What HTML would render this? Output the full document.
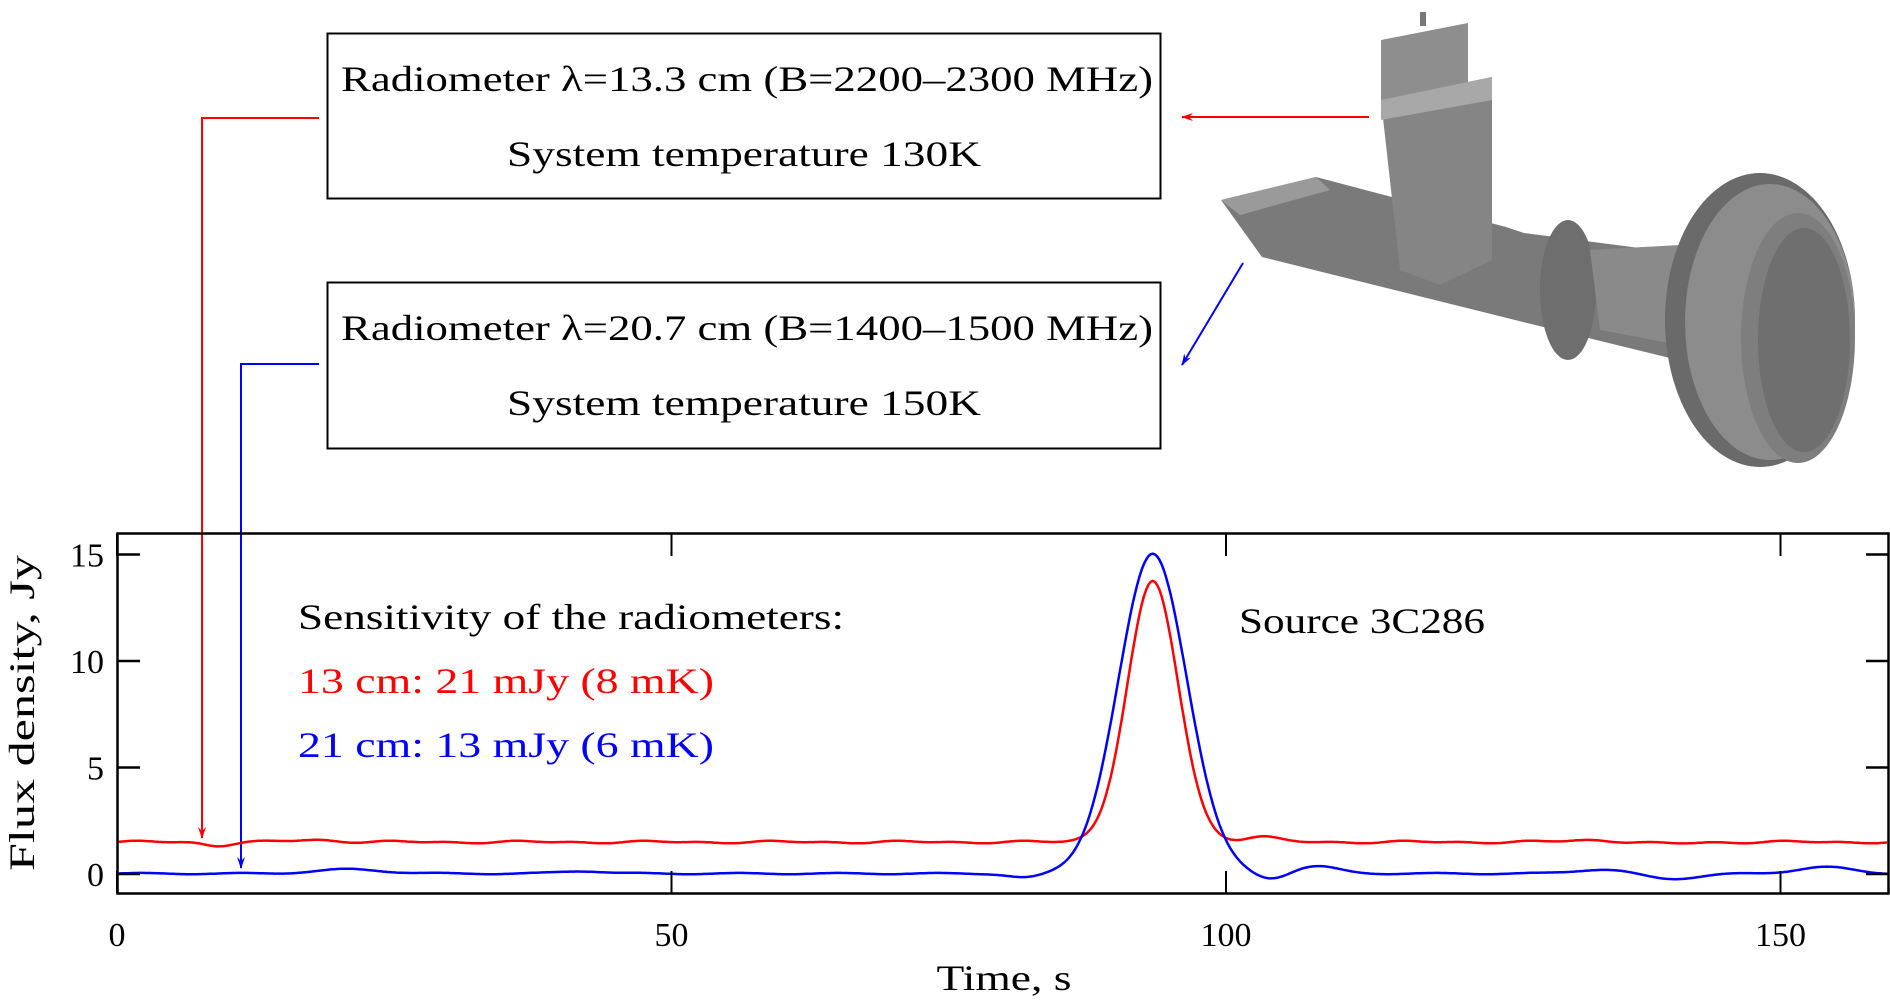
<!DOCTYPE html>
<html><head><meta charset="utf-8"><style>
html,body{margin:0;padding:0;background:#fff;}
svg{display:block;font-family:"Liberation Serif","DejaVu Serif",serif;}
</style></head><body>
<svg id="s" width="1890" height="1005" viewBox="0 0 1890 1005" xmlns="http://www.w3.org/2000/svg">
<defs>
<marker id="ar" markerWidth="12" markerHeight="8" refX="11" refY="4" orient="auto" markerUnits="userSpaceOnUse"><path d="M0,0 L12,4 L0,8 L4,4 z" fill="#f00"/></marker>
<marker id="ab" markerWidth="12" markerHeight="8" refX="11" refY="4" orient="auto" markerUnits="userSpaceOnUse"><path d="M0,0 L12,4 L0,8 L4,4 z" fill="#00f"/></marker>
</defs>
<g>
<polygon points="1221,200 1316,177 1506,227 1524,233 1678,253 1678,360 1515,320 1262,257" fill="#7a7a7a"/>
<polygon points="1221,200 1316,177 1330,190 1240,215" fill="#9a9a9a"/>
<polygon points="1381,100 1492,77 1492,260 1440,285 1400,270" fill="#858585"/>
<polygon points="1381,40 1468,23 1468,90 1381,100" fill="#8e8e8e"/>
<polygon points="1381,100 1492,77 1492,100 1381,120" fill="#a8a8a8"/>
<rect x="1420" y="12" width="6" height="14" fill="#777"/>
<ellipse cx="1568" cy="290" rx="28" ry="70" fill="#6e6e6e"/>
<polygon points="1590,250 1680,245 1680,345 1600,330" fill="#8a8a8a"/>
<ellipse cx="1760" cy="320" rx="95" ry="147" fill="#6a6a6a"/>
<ellipse cx="1770" cy="322" rx="85" ry="138" fill="#8c8c8c"/>
<ellipse cx="1798" cy="338" rx="57" ry="125" fill="#7e7e7e"/>
<ellipse cx="1804" cy="340" rx="46" ry="112" fill="#6f6f6f"/>
</g>
<rect x="327.5" y="33.5" width="833" height="165" fill="none" stroke="#000" stroke-width="2"/>
<rect x="327.5" y="282.5" width="833" height="166" fill="none" stroke="#000" stroke-width="2"/>
<g font-size="36" fill="#000">
<text x="341" y="91" textLength="812" lengthAdjust="spacingAndGlyphs">Radiometer λ=13.3 cm (B=2200–2300 MHz)</text>
<text x="744" y="166" text-anchor="middle" textLength="474" lengthAdjust="spacingAndGlyphs">System temperature 130K</text>
<text x="341" y="340" textLength="812" lengthAdjust="spacingAndGlyphs">Radiometer λ=20.7 cm (B=1400–1500 MHz)</text>
<text x="744" y="415" text-anchor="middle" textLength="474" lengthAdjust="spacingAndGlyphs">System temperature 150K</text>
</g>
<polyline points="319,118 202,118 202,838" fill="none" stroke="#f00" stroke-width="2" marker-end="url(#ar)"/>
<polyline points="319,364 241,364 241,868" fill="none" stroke="#00f" stroke-width="2" marker-end="url(#ab)"/>
<line x1="1369" y1="117" x2="1182" y2="117" stroke="#f00" stroke-width="2" marker-end="url(#ar)"/>
<line x1="1243" y1="263" x2="1182" y2="365" stroke="#00f" stroke-width="2" marker-end="url(#ab)"/>
<g id="plot"></g>
<rect x="117.5" y="533.5" width="1771" height="360" fill="none" stroke="#000" stroke-width="2.5"/>
<g font-size="36">
<text x="298" y="629" textLength="546" lengthAdjust="spacingAndGlyphs">Sensitivity of the radiometers:</text>
<text x="298" y="693" fill="#f00" textLength="416" lengthAdjust="spacingAndGlyphs">13 cm: 21 mJy (8 mK)</text>
<text x="298" y="757" fill="#00f" textLength="416" lengthAdjust="spacingAndGlyphs">21 cm: 13 mJy (6 mK)</text>
<text x="1239" y="633" textLength="246" lengthAdjust="spacingAndGlyphs">Source 3C286</text>
<text x="1004" y="990" text-anchor="middle" textLength="135" lengthAdjust="spacingAndGlyphs">Time, s</text>
<text transform="translate(34,713) rotate(-90)" text-anchor="middle" textLength="316" lengthAdjust="spacingAndGlyphs">Flux density, Jy</text>
</g>
<g id="ticks" font-size="34"></g>
</svg>
<script>
var NS="http://www.w3.org/2000/svg";
function X(t){return 117+t*11.09;}
function Y(v){return 874-v*21.3;}
function el(n,a,p,txt){var e=document.createElementNS(NS,n);for(var k in a)e.setAttribute(k,a[k]);if(txt!==undefined)e.textContent=txt;p.appendChild(e);return e;}
var tk=document.getElementById('ticks');
[0,50,100,150].forEach(function(t){var x=X(t);
el('line',{x1:x,y1:534,x2:x,y2:556,stroke:'#000','stroke-width':2},tk);
el('line',{x1:x,y1:893,x2:x,y2:871,stroke:'#000','stroke-width':2},tk);
el('text',{x:x,y:946,'text-anchor':'middle'},tk,String(t));});
[0,5,10,15].forEach(function(v){var y=Y(v);
el('line',{x1:118,y1:y,x2:140,y2:y,stroke:'#000','stroke-width':2.5},tk);
el('line',{x1:1888,y1:y,x2:1866,y2:y,stroke:'#000','stroke-width':2.5},tk);
el('text',{x:104,y:y+12,'text-anchor':'end'},tk,String(v));});
function g(t,c,s){return Math.exp(-(t-c)*(t-c)/(2*s*s));}
function red(t){return 1.5+12.2*g(t,93.4,2.3)+0.04*Math.sin(t*0.55)+0.03*Math.sin(t*1.1)+0.25*g(t,103,1.5)-0.15*g(t,9,1.2)+0.1*g(t,18,2)-0.08*g(t,140,2)+0.1*g(t,133,2);}
function blue(t){return 0.02+15*g(t,93.4,3.1)-0.2*g(t,82,1.5)-0.3*g(t,104,1.5)+0.35*g(t,108,2)+0.2*g(t,21,3)+0.12*g(t,42,2)-0.25*g(t,140,2.5)+0.2*g(t,134,2.5)+0.3*g(t,154,2.5)+0.03*Math.sin(t*0.7);}
var p=document.getElementById('plot');
function path(f,col){var d='';for(var t=0;t<=159.7;t+=0.2){d+=(d?'L':'M')+X(t).toFixed(1)+','+Y(f(t)).toFixed(1);}
el('path',{d:d,fill:'none',stroke:col,'stroke-width':2.5},p);}
path(red,'#f00');path(blue,'#00f');
</script>
</body></html>
